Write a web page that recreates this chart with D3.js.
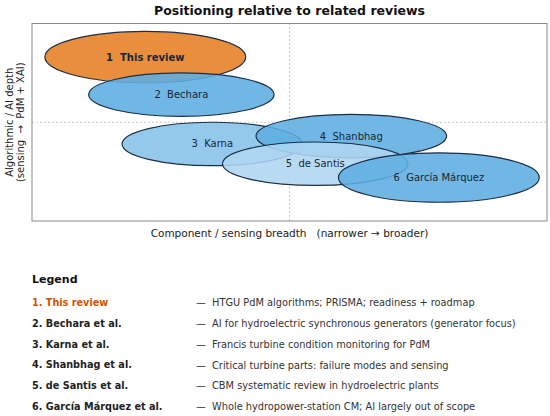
<!DOCTYPE html>
<html>
<head>
<meta charset="utf-8">
<script src="https://cdn.jsdelivr.net/npm/d3@7"></script>
<style>
  body { margin: 0; background: #fff; }
  svg { font-family: "DejaVu Sans", sans-serif; }
</style>
</head>
<body>
<div id="chart"></div>
<script>
const width = 550;
const height = 416;

// review positions (x = breadth, y = depth), ellipse size in data units
const labels = ["1  This review", "2  Bechara", "3  Karna", "4  Shanbhag", "5  de Santis", "6  García Márquez"];
const cx = [0.22, 0.29, 0.35, 0.62, 0.55, 0.79];
const cy = [0.83, 0.64, 0.39, 0.43, 0.29, 0.22];
const ew = [0.39, 0.36, 0.35, 0.37, 0.36, 0.39];
const eh = [0.26, 0.22, 0.22, 0.22, 0.22, 0.25];
const fills = ["#e67e22", "#5dade2", "#85c1e9", "#5dade2", "#aed6f1", "#5dade2"];

const legendNames = ["1. This review", "2. Bechara et al.", "3. Karna et al.", "4. Shanbhag et al.", "5. de Santis et al.", "6. García Márquez et al."];
const legendDesc = [
  "HTGU PdM algorithms; PRISMA; readiness + roadmap",
  "AI for hydroelectric synchronous generators (generator focus)",
  "Francis turbine condition monitoring for PdM",
  "Critical turbine parts: failure modes and sensing",
  "CBM systematic review in hydroelectric plants",
  "Whole hydropower-station CM; AI largely out of scope"
];

const plot = {left: 32, right: 547, top: 23.5, bottom: 221};

const x = d3.scaleLinear().domain([0, 1]).range([plot.left, plot.right]);
const y = d3.scaleLinear().domain([0, 1]).range([plot.bottom, plot.top]);

const svg = d3.select("#chart").append("svg")
  .attr("width", width)
  .attr("height", height);

// title
svg.append("text")
  .attr("x", x(0.5))
  .attr("y", 15)
  .attr("text-anchor", "middle")
  .attr("font-size", 12.5)
  .attr("font-weight", "bold")
  .attr("fill", "#111")
  .text("Positioning relative to related reviews");

// quadrant lines
svg.append("line")
  .attr("x1", x(0.5)).attr("x2", x(0.5))
  .attr("y1", y(0)).attr("y2", y(1))
  .attr("stroke", "#bbb").attr("stroke-width", 0.8)
  .attr("stroke-dasharray", "2,2");
svg.append("line")
  .attr("x1", x(0)).attr("x2", x(1))
  .attr("y1", y(0.5)).attr("y2", y(0.5))
  .attr("stroke", "#bbb").attr("stroke-width", 0.8)
  .attr("stroke-dasharray", "2,2");

// ellipses, drawn in order so later ones sit on top
const items = labels.map((d, i) => ({label: d, cx: cx[i], cy: cy[i], w: ew[i], h: eh[i], fill: fills[i], i: i}));

const g = svg.selectAll("g.review")
  .data(items)
  .enter()
  .append("g")
  .attr("class", "review");

g.append("ellipse")
  .attr("cx", d => x(d.cx))
  .attr("cy", d => y(d.cy))
  .attr("rx", d => (x(d.w) - x(0)) / 2)
  .attr("ry", d => (y(0) - y(d.h)) / 2)
  .attr("fill", d => d.fill)
  .attr("fill-opacity", 0.88)
  .attr("stroke", "#1c2e44")
  .attr("stroke-width", 1.2);

g.append("text")
  .attr("x", d => x(d.cx))
  .attr("y", d => y(d.cy))
  .attr("dy", "0.35em")
  .attr("text-anchor", "middle")
  .attr("font-size", 10)
  .attr("font-weight", d => d.i === 0 ? "bold" : "normal")
  .attr("fill", "#1a2636")
  .style("white-space", "pre")
  .text(d => d.label);

// frame
svg.append("rect")
  .attr("x", plot.left)
  .attr("y", plot.top)
  .attr("width", plot.right - plot.left)
  .attr("height", plot.bottom - plot.top)
  .attr("fill", "none")
  .attr("stroke", "#888")
  .attr("stroke-width", 1);

// axis labels
svg.append("text")
  .attr("x", x(0.5))
  .attr("y", 237)
  .attr("text-anchor", "middle")
  .attr("font-size", 10.5)
  .attr("fill", "#222")
  .style("white-space", "pre")
  .text("Component / sensing breadth   (narrower \u2192 broader)");

const yl = svg.append("text")
  .attr("transform", "translate(13," + y(0.5) + ") rotate(-90)")
  .attr("text-anchor", "middle")
  .attr("font-size", 10)
  .attr("fill", "#222");
yl.append("tspan").attr("x", 0).attr("dy", 0).text("Algorithmic / AI depth");
yl.append("tspan").attr("x", 0).attr("dy", 11).style("white-space", "pre").text("(sensing  \u2192  PdM + XAI)");

// legend
svg.append("text")
  .attr("x", 32)
  .attr("y", 283)
  .attr("font-size", 11)
  .attr("font-weight", "bold")
  .attr("fill", "#111")
  .text("Legend");

const rowY = d3.scaleLinear().domain([0, 5]).range([303, 406.5]);

svg.selectAll("text.lname")
  .data(legendNames)
  .enter()
  .append("text")
  .attr("class", "lname")
  .attr("x", 32)
  .attr("y", (d, i) => rowY(i))
  .attr("dy", "0.35em")
  .attr("font-size", 9.7)
  .attr("font-weight", "bold")
  .attr("fill", (d, i) => i === 0 ? "#d35400" : "#222")
  .text(d => d);

svg.selectAll("text.ldesc")
  .data(legendDesc)
  .enter()
  .append("text")
  .attr("class", "ldesc")
  .attr("x", 196)
  .attr("y", (d, i) => rowY(i))
  .attr("dy", "0.35em")
  .attr("font-size", 9.8)
  .attr("fill", "#333")
  .style("white-space", "pre")
  .text(d => "\u2014  " + d);
</script>
</body>
</html>
